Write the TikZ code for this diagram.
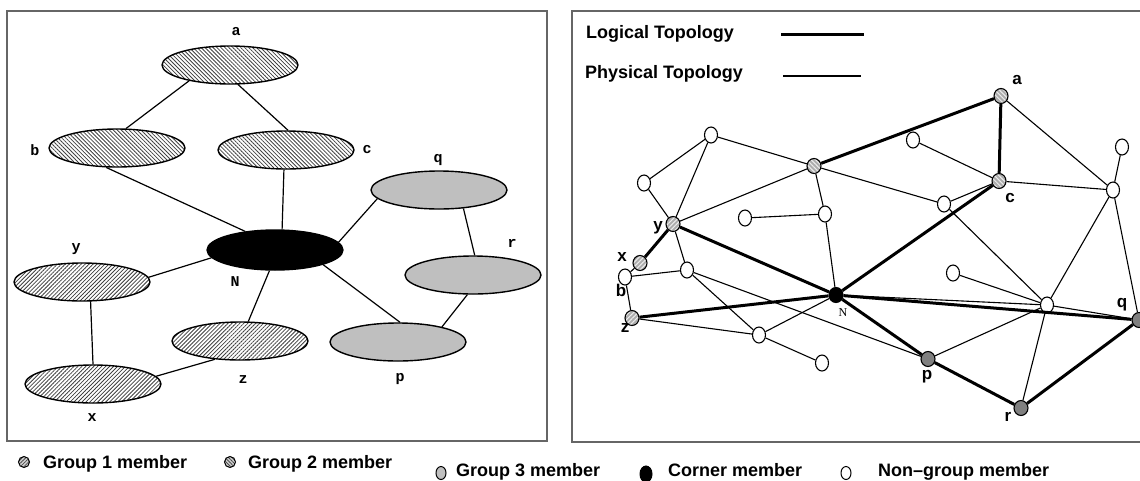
\documentclass[tikz,border=0pt]{standalone}
\usepackage{fontspec}
\setmainfont{Liberation Sans}
\newfontfamily\monofnt{Liberation Mono}
\newfontfamily\seriffnt{Liberation Serif}
\usetikzlibrary{shapes.geometric,patterns.meta}

\tikzset{
  % panel frames
  panel/.style={draw=black!60, line width=1.5pt},
  % left panel: group ellipses
  bigell/.style={ellipse, draw, line width=1.4pt, minimum width=136pt, minimum height=38pt, inner sep=0pt},
  ellone/.style={bigell, preaction={fill=white}, pattern={Lines[angle=45,distance=2.8pt,line width=0.8pt]}, pattern color=black!75},
  elltwo/.style={bigell, preaction={fill=white}, pattern={Lines[angle=-45,distance=2.8pt,line width=0.8pt]}, pattern color=black!75},
  ellthree/.style={bigell, fill=gray!50},
  ellcorner/.style={bigell, fill=black},
  link/.style={line width=1.2pt},
  mlbl/.style={font=\monofnt\bfseries\fontsize{15}{15}\selectfont, inner sep=0pt},
  % right panel: network nodes
  sn/.style={ellipse, draw, line width=1.1pt, minimum width=13pt, minimum height=16pt, inner sep=0pt},
  wn/.style={sn, fill=white},
  gone/.style={sn, minimum width=14pt, minimum height=15pt, preaction={fill=gray!65}, pattern={Lines[angle=45,distance=3.2pt,line width=1pt]}, pattern color=white!85!gray},
  gtwo/.style={sn, minimum width=14pt, minimum height=15pt, preaction={fill=gray!65}, pattern={Lines[angle=-45,distance=3.2pt,line width=1pt]}, pattern color=white!85!gray},
  gthree/.style={sn, minimum width=14pt, minimum height=15pt, fill=gray},
  gcorner/.style={sn, minimum width=14pt, minimum height=15pt, fill=black},
  phys/.style={line width=1.1pt},
  logic/.style={line width=3pt},
  slbl/.style={font=\bfseries\fontsize{17}{17}\selectfont, inner sep=0pt},
  % legend
  lgtext/.style={font=\bfseries\fontsize{18}{18}\selectfont, inner sep=0pt, anchor=base west},
  lgicon/.style={ellipse, draw, line width=1pt, inner sep=0pt, minimum width=11pt, minimum height=11pt},
}

\begin{document}
\begin{tikzpicture}[x=1pt,y=-1pt]
\useasboundingbox (0,0) rectangle (1140,480);
\fill[white] (0,0) rectangle (1140,480);

% ---------------- left panel: group tree ----------------
\draw[panel] (7,11) rectangle (547,441);

\node[elltwo] (La) at (230,65) {};
\node[elltwo] (Lb) at (117,148) {};
\node[elltwo] (Lc) at (286,150) {};
\node[ellthree] (Lq) at (439,190) {};
\node[ellcorner, minimum height=40pt] (LN) at (275,250) {};
\node[ellone] (Ly) at (82,282) {};
\node[ellthree] (Lr) at (473,275) {};
\node[ellone] (Lz) at (240,341) {};
\node[ellthree] (Lp) at (398,342) {};
\node[ellone] (Lx) at (93,384) {};

\draw[link] (La.201) -- (Lb.65);
\draw[link] (La.-68) -- (Lc.84);
\draw[link] (Lb.-119) -- (LN.148);
\draw[link] (Lc.-96) -- (LN.71);
\draw[link] (Lq.188) -- (LN.7);
\draw[link] (Lq.-37) -- (Lr.85);
\draw[link] (LN.187) -- (Ly.4);
\draw[link] (LN.-105) -- (Lz.67);
\draw[link] (LN.-17) -- (Lp.84);
\draw[link] (Lr.-106) -- (Lp.19);
\draw[link] (Ly.-66) -- (Lx.90);
\draw[link] (Lz.216) -- (Lx.7);

\node[mlbl] (tLa) at (236,32) {a};
\node[mlbl] (tLb) at (35,150) {b};
\node[mlbl] (tLc) at (367,150) {c};
\node[mlbl] (tLq) at (438,160) {q};
\node[mlbl] (tLy) at (76,249) {y};
\node[mlbl] (tLN) at (235,282) {N};
\node[mlbl] (tLr) at (512,243) {r};
\node[mlbl] (tLz) at (243,380) {z};
\node[mlbl] (tLp) at (400,379) {p};
\node[mlbl] (tLx) at (92,418) {x};

% ---------------- right panel: network ----------------
\draw[panel] (1150,11) -- (572,11) -- (572,442) -- (1150,442);

\node[lgtext] (tLog) at (586,38) {Logical Topology};
\node[lgtext] (tPhy) at (585,78) {Physical Topology};
\coordinate (lg1) at (781,34);
\coordinate (lg2) at (864,34);
\coordinate (lg3) at (783,76);
\coordinate (lg4) at (861,76);
\draw[logic] (lg1) -- (lg2);
\draw[phys] (lg3) -- (lg4);

\node[gcorner] (RN) at (836,295) {};
\node[gtwo] (Ra) at (1001,96) {};
\node[gtwo] (Rc) at (999,181) {};
\node[gtwo] (Rm) at (814,166) {};
\node[gone] (Ry) at (673,224) {};
\node[gone] (Rx) at (640,263) {};
\node[gone] (Rz) at (632,318) {};
\node[wn] (Rb) at (625,277) {};
\node[gthree] (Rp) at (928,359) {};
\node[gthree] (Rr) at (1021,408) {};
\node[gthree] (Rq) at (1139,320) {};
\node[wn] (n1) at (711,135) {};
\node[wn] (n2) at (644,183) {};
\node[wn] (n3) at (745,218) {};
\node[wn] (n4) at (825,214) {};
\node[wn] (n5) at (687,270) {};
\node[wn] (n6) at (913,140) {};
\node[wn] (n7) at (944,204) {};
\node[wn] (n8) at (1122,147) {};
\node[wn] (n9) at (1113,190) {};
\node[wn] (n10) at (953,273) {};
\node[wn] (n11) at (1047,305) {};
\node[wn] (n12) at (759,335) {};
\node[wn] (n13) at (822,363) {};

% physical links
\draw[phys] (n1) -- (n2);
\draw[phys] (n1) -- (Ry);
\draw[phys] (n1) -- (Rm);
\draw[phys] (n2) -- (Ry);
\draw[phys] (Ry) -- (Rm);
\draw[phys] (Ry) -- (n5);
\draw[phys] (Rm) -- (n4);
\draw[phys] (Rm) -- (n7);
\draw[phys] (n3) -- (n4);
\draw[phys] (n4) -- (RN);
\draw[phys] (n6) -- (Rc);
\draw[phys] (n7) -- (Rc);
\draw[phys] (Rc) -- (n9);
\draw[phys] (Ra) -- (n9);
\draw[phys] (n8) -- (n9);
\draw[phys] (n7) -- (n11);
\draw[phys] (n9) -- (n11);
\draw[phys] (n9) -- (Rq);
\draw[phys] (n10) -- (n11);
\draw[phys] (n11) -- (Rq);
\draw[phys] (RN) -- (n11);
\draw[phys] (n11) -- (Rp);
\draw[phys] (n11) -- (Rr);
\draw[phys] (Rx) -- (Rb);
\draw[phys] (Rb) -- (n5);
\draw[phys] (Rb) -- (Rz);
\draw[phys] (n5) -- (n12);
\draw[phys] (n5) -- (Rp);
\draw[phys] (Rz) -- (n12);
\draw[phys] (n12) -- (RN);
\draw[phys] (n12) -- (n13);

% logical links
\draw[logic] (Rm) -- (Ra);
\draw[logic] (Ra) -- (Rc);
\draw[logic] (Rc) -- (RN);
\draw[logic] (Ry) -- (RN);
\draw[logic] (Ry) -- (Rx);
\draw[logic] (Rz) -- (RN);
\draw[logic] (RN) -- (Rp);
\draw[logic] (Rp) -- (Rr);
\draw[logic] (Rr) -- (Rq);
\draw[logic] (RN) -- (Rq);

\node[slbl] (tRa) at (1017,80) {a};
\node[slbl] (tRc) at (1010,198) {c};
\node[slbl] (tRy) at (658,228) {y};
\node[slbl] (tRx) at (622,257) {x};
\node[slbl] (tRb) at (621,290) {b};
\node[slbl] (tRz) at (625,328) {z};
\node[slbl] (tRp) at (927,377) {p};
\node[slbl] (tRq) at (1122,305) {q};
\node[slbl] (tRr) at (1008,417) {r};
\node[font=\seriffnt\fontsize{12}{12}\selectfont, inner sep=0pt] (tRN) at (843,313) {N};

% ---------------- legend ----------------
\node[lgicon, preaction={fill=gray!35}, pattern={Lines[angle=45,distance=2.5pt,line width=0.8pt]}, pattern color=black!70] (k1) at (24,462) {};
\node[lgtext] (t1) at (43,468) {Group 1 member};
\node[lgicon, preaction={fill=gray!35}, pattern={Lines[angle=-45,distance=2.5pt,line width=0.8pt]}, pattern color=black!70] (k2) at (230,462) {};
\node[lgtext] (t2) at (248,468) {Group 2 member};
\node[lgicon, fill=gray!50, minimum width=10pt, minimum height=13pt] (k3) at (441,473) {};
\node[lgtext] (t3) at (456,476) {Group 3 member};
\node[lgicon, fill=black, minimum width=12pt, minimum height=16pt] (k4) at (646,474) {};
\node[lgtext] (t4) at (668,476) {Corner member};
\node[lgicon, fill=white, minimum width=10pt, minimum height=13pt] (k5) at (846,473) {};
\node[lgtext] (t5) at (878,476) {Non\textendash group member};
\end{tikzpicture}
\end{document}
